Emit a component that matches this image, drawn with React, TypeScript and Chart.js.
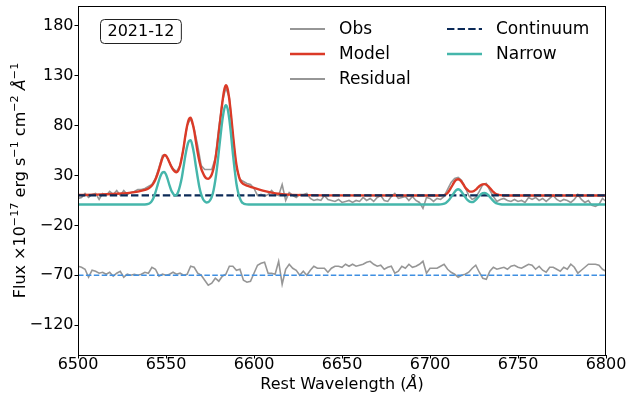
import { useEffect, useRef } from 'react';
import { Chart, registerables } from 'chart.js';
Chart.register(...registerables);

// ---- data ----
const wavelengths = Array.from({ length: 151 }, (_, i) => 6500 + 2 * i);
const obsFlux = [
  7, 8, 12, 8, 11, 12, 6, 12, 10, 14, 11, 15, 10, 15, 11, 13, 14, 16, 16, 17,
  19, 21, 27, 38, 50, 50, 43, 37, 34, 40, 58, 80, 87, 77, 60, 40, 36, 36, 36, 47,
  78, 104, 118, 108, 70, 38, 26, 24, 22, 21, 17, 10, 11, 9, 11, 15, 11, 10, 21, 5,
  13, 10, 8, 11, 11, 12, 7, 5, 6, 5, 10, 6, 5, 4, 6, 3, 4, 5, 3, 5,
  4, 8, 5, 7, 4, 8, 10, 5, 4, 9, 12, 7, 8, 9, 5, 9, 5, 3, -3, 8,
  7, 4, 7, 6, 9, 16, 23, 27, 28, 25, 18, 10, 6, 8, 14, 21, 22, 15, 9, 4,
  6, 7, 5, 4, 6, 4, 5, 3, 8, 6, 8, 5, 7, 4, 7, 10, 6, 4, 6, 5,
  3, 6, 11, 6, 3, 5, 0, -1, 1, 7, 4,
];
const residualFlux = [
  -61, -62, -64, -72, -65, -66, -68, -67, -69, -67, -71, -68, -66, -72, -69, -70, -69, -70, -69, -67,
  -68, -62, -64, -71, -69, -70, -69, -67, -69, -68, -70, -69, -61, -62, -68, -70, -75, -80, -78, -73,
  -76, -71, -69, -61, -61, -65, -64, -75, -77, -76, -68, -60, -58, -57, -68, -68, -69, -56, -79, -64,
  -59, -63, -65, -70, -66, -70, -65, -61, -63, -63, -63, -67, -63, -61, -61, -62, -59, -61, -59, -61,
  -60, -59, -57, -56, -59, -61, -60, -64, -62, -61, -68, -66, -61, -63, -59, -62, -61, -59, -56, -68,
  -63, -63, -63, -61, -59, -64, -67, -69, -72, -70, -69, -67, -63, -60, -67, -73, -74, -66, -62, -64,
  -63, -62, -64, -61, -60, -62, -63, -61, -59, -60, -64, -61, -65, -67, -62, -62, -64, -66, -62, -64,
  -59, -62, -68, -65, -62, -59, -59, -59, -60, -64, -66,
];
const modelWave = [
  6500, 6510, 6520, 6528, 6534, 6538, 6540, 6542, 6543, 6544, 6545, 6546, 6547, 6548, 6549, 6550,
  6551, 6552, 6553, 6554, 6555, 6556, 6557, 6558, 6559, 6560, 6561, 6562, 6563, 6564, 6565, 6566,
  6567, 6568, 6569, 6570, 6571, 6572, 6573, 6574, 6575, 6576, 6577, 6578, 6579, 6580, 6581, 6582,
  6583, 6584, 6585, 6586, 6587, 6588, 6589, 6590, 6591, 6592, 6593, 6594, 6596, 6598, 6600, 6605,
  6610, 6615, 6620, 6630, 6640, 6705, 6708, 6710, 6712, 6713, 6714, 6715, 6716, 6717, 6718, 6719,
  6720, 6721, 6722, 6723, 6724, 6725, 6726, 6727, 6728, 6729, 6730, 6731, 6732, 6733, 6734, 6735,
  6736, 6737, 6738, 6740, 6742, 6800,
];
const modelFlux = [
  10.4, 10.8, 11.5, 12.3, 13.8, 15.5, 17, 20, 22.5, 26, 30.5, 36, 42, 47.5, 50.5, 50,
  47, 43, 39, 36, 34, 33.3, 35, 40, 48, 58, 70, 80, 86.5, 88, 83, 75,
  64, 53, 44, 37, 32.5, 29, 27, 26.7, 28, 31, 37, 46, 58, 73, 88, 103,
  115, 120.5, 117, 106, 90, 72, 55, 41, 32, 26, 23, 21.5, 19.8, 18.7, 17.5, 14.8,
  12.8, 11.5, 10.8, 10.3, 10.1, 10, 10.3, 12.5, 18, 21, 24, 25.8, 26.3, 25.5, 23.5, 21,
  18, 16, 14.5, 13.8, 13.8, 14.5, 15.8, 17.5, 19.2, 20.5, 21.2, 21.4, 20.8, 19.3, 17.5, 15.5,
  13.5, 12, 11, 10.3, 10, 10,
];
const narrowWave = [
  6500, 6538, 6540, 6541, 6542, 6543, 6544, 6545, 6546, 6547, 6548, 6549, 6550, 6551, 6552, 6553,
  6554, 6555, 6556, 6557, 6558, 6559, 6560, 6561, 6562, 6563, 6564, 6565, 6566, 6567, 6568, 6569,
  6570, 6571, 6572, 6573, 6574, 6575, 6576, 6577, 6578, 6579, 6580, 6581, 6582, 6583, 6584, 6585,
  6586, 6587, 6588, 6589, 6590, 6591, 6592, 6593, 6594, 6595, 6597, 6705, 6707, 6709, 6710, 6711,
  6712, 6713, 6714, 6715, 6716, 6717, 6718, 6719, 6720, 6721, 6722, 6723, 6724, 6725, 6726, 6727,
  6728, 6729, 6730, 6731, 6732, 6733, 6734, 6735, 6736, 6737, 6738, 6740, 6742, 6800,
];
const narrowFlux = [
  1, 1, 1.5, 2.5, 4.5, 8, 13, 19, 25, 30, 33, 33.5, 31, 26, 20, 15,
  12, 10, 10.5, 14, 20, 28, 39, 50, 59, 64.5, 65.5, 60, 51, 39, 28, 18,
  11, 6.5, 4, 3, 3.2, 5, 8.5, 15, 25, 38, 54, 70, 85, 96, 100.5, 97,
  86, 70, 52, 36, 22, 13, 7, 3.5, 2, 1.3, 1, 1, 1.3, 2.5, 4, 6,
  8.5, 11, 13.5, 15.5, 16.3, 15.5, 13.5, 11, 8.5, 6, 4.5, 3.5, 3.3, 4, 5.5, 7.5,
  9.5, 11.2, 12.3, 12.6, 12, 10.5, 8.5, 6.5, 4.5, 3, 2, 1.2, 1, 1,
];
const continuumLevel = 10;
const residualZero = -70;
const xRange = [6500, 6800];
const yRange = [-150, 200];
const xTicks = [6500, 6550, 6600, 6650, 6700, 6750, 6800];
const yTicks = [-120, -70, -20, 30, 80, 130, 180];
const epochLabel = '2021-12';

// ---- styles ----
const FONT = '"DejaVu Sans", sans-serif';
const FS = 16;
const FS_LEG = 17;
const C_OBS = '#969696';
const C_MODEL = '#db3a27';
const C_NARROW = '#45b6ab';
const C_CONT = '#0b2a57';
const C_RZERO = '#3f8fe2';

const pts = (xs: number[], ys: number[]) => xs.map((x, i) => ({ x, y: ys[i] }));

type Seg = { t: string; sup?: boolean; it?: boolean };

function drawRich(ctx: CanvasRenderingContext2D, segs: Seg[], cx: number, cy: number, rot: number) {
  ctx.save();
  ctx.translate(cx, cy);
  ctx.rotate(rot);
  ctx.textBaseline = 'middle';
  ctx.textAlign = 'left';
  const fontOf = (s: Seg) => `${s.it ? 'italic ' : ''}${s.sup ? FS * 0.7 : FS}px ${FONT}`;
  let total = 0;
  const widths = segs.map((s) => {
    ctx.font = fontOf(s);
    const w = ctx.measureText(s.t).width;
    total += w;
    return w;
  });
  let x = -total / 2;
  segs.forEach((s, i) => {
    ctx.font = fontOf(s);
    ctx.fillStyle = '#000';
    ctx.fillText(s.t, x, s.sup ? -FS * 0.38 : 0);
    x += widths[i];
  });
  ctx.restore();
}

const decorPlugin = {
  id: 'decor',
  afterDraw(chart: any) {
    const ctx: CanvasRenderingContext2D = chart.ctx;
    const a = chart.chartArea;
    ctx.save();
    // frame
    ctx.strokeStyle = '#000';
    ctx.lineWidth = 1;
    ctx.strokeRect(Math.round(a.left) + 0.5, Math.round(a.top) + 0.5, Math.round(a.right - a.left) - 1, Math.round(a.bottom - a.top));
    // axis titles
    drawRich(ctx, [{ t: 'Rest Wavelength (' }, { t: 'Å', it: true }, { t: ')' }], (a.left + a.right) / 2, 385, 0);
    drawRich(
      ctx,
      [
        { t: 'Flux ×10' }, { t: '−17', sup: true }, { t: ' erg s' }, { t: '−1', sup: true },
        { t: ' cm' }, { t: '−2', sup: true }, { t: ' ' }, { t: 'Å', it: true }, { t: '−1', sup: true },
      ],
      21,
      (a.top + a.bottom) / 2,
      -Math.PI / 2
    );
    // epoch box
    ctx.font = `${FS}px ${FONT}`;
    const tw = ctx.measureText(epochLabel).width;
    const bx = 100.5, by = 19.5, bw = tw + 14, bh = 24;
    ctx.beginPath();
    (ctx as any).roundRect(bx, by, bw, bh, 4);
    ctx.fillStyle = '#fff';
    ctx.fill();
    ctx.strokeStyle = '#222';
    ctx.lineWidth = 1;
    ctx.stroke();
    ctx.fillStyle = '#000';
    ctx.textAlign = 'center';
    ctx.textBaseline = 'middle';
    ctx.fillText(epochLabel, bx + bw / 2, by + bh / 2 + 0.5);
    // legend
    const items = [
      { label: 'Obs', color: C_OBS, w: 1.8, dash: [] as number[], x: 290, y: 29 },
      { label: 'Model', color: C_MODEL, w: 2.4, dash: [], x: 290, y: 54 },
      { label: 'Residual', color: C_OBS, w: 1.8, dash: [], x: 290, y: 79 },
      { label: 'Continuum', color: C_CONT, w: 2.2, dash: [7.4, 3.2], x: 447, y: 29 },
      { label: 'Narrow', color: C_NARROW, w: 2.4, dash: [], x: 447, y: 54 },
    ];
    items.forEach((it) => {
      ctx.beginPath();
      ctx.setLineDash(it.dash);
      ctx.strokeStyle = it.color;
      ctx.lineWidth = it.w;
      ctx.moveTo(it.x, it.y);
      ctx.lineTo(it.x + 35, it.y);
      ctx.stroke();
      ctx.setLineDash([]);
      ctx.fillStyle = '#000';
      ctx.textAlign = 'left';
      ctx.textBaseline = 'middle';
      ctx.font = `${FS_LEG}px ${FONT}`;
      ctx.fillText(it.label, it.x + 49, it.y + 1);
    });
    ctx.restore();
  },
};

export default function App() {
  const ref = useRef<HTMLCanvasElement | null>(null);
  useEffect(() => {
    document.body.style.margin = '0';
    const canvas = ref.current!;
    const fmt = (v: number) => (v < 0 ? '\u2212' + Math.abs(v) : String(v));
    const chart = new Chart(canvas, {
      type: 'line',
      data: {
        datasets: [
          {
            label: 'Narrow', data: pts(narrowWave, narrowFlux), borderColor: C_NARROW, borderWidth: 2.4,
            cubicInterpolationMode: 'monotone', pointRadius: 0, order: 1,
          },
          {
            label: 'Continuum', data: pts(xRange, [continuumLevel, continuumLevel]), borderColor: C_CONT,
            borderWidth: 2.2, borderDash: [7.4, 3.2], pointRadius: 0, order: 2,
          },
          {
            label: 'ResidualZero', data: pts(xRange, [residualZero, residualZero]), borderColor: C_RZERO,
            borderWidth: 1.6, borderDash: [5.5, 2.4], pointRadius: 0, order: 3,
          },
          {
            label: 'Model', data: pts(modelWave, modelFlux), borderColor: C_MODEL, borderWidth: 2.4,
            cubicInterpolationMode: 'monotone', pointRadius: 0, order: 4,
          },
          {
            label: 'Residual', data: pts(wavelengths, residualFlux), borderColor: C_OBS, borderWidth: 1.6,
            pointRadius: 0, tension: 0, order: 5,
          },
          {
            label: 'Obs', data: pts(wavelengths, obsFlux), borderColor: C_OBS, borderWidth: 1.6,
            pointRadius: 0, tension: 0, order: 6,
          },
        ],
      },
      options: {
        responsive: false,
        animation: false,
        layout: { padding: { left: 0, right: 21, top: 6, bottom: 0 } },
        plugins: { legend: { display: false }, tooltip: { enabled: false } },
        scales: {
          x: {
            type: 'linear', min: xRange[0], max: xRange[1],
            afterBuildTicks: (s: any) => { s.ticks = xTicks.map((v) => ({ value: v })); },
            afterFit: (s: any) => { s.height = 41; s.paddingLeft = 0; s.paddingRight = 0; },
            ticks: { font: { family: FONT, size: FS }, color: '#000', padding: -3, maxRotation: 0, callback: (v: any) => fmt(Number(v)) },
            grid: { drawOnChartArea: false, drawTicks: true, tickLength: 3.5, tickColor: '#000', tickWidth: 1 },
            border: { display: false },
          },
          y: {
            type: 'linear', min: yRange[0], max: yRange[1],
            afterBuildTicks: (s: any) => { s.ticks = yTicks.map((v) => ({ value: v })); },
            afterFit: (s: any) => { s.width = 78; s.paddingTop = 0; s.paddingBottom = 0; },
            ticks: { font: { family: FONT, size: FS }, color: '#000', padding: 1, callback: (v: any) => fmt(Number(v)) },
            grid: { drawOnChartArea: false, drawTicks: true, tickLength: 3.5, tickColor: '#000', tickWidth: 1 },
            border: { display: false },
          },
        },
      } as any,
      plugins: [decorPlugin],
    });
    return () => chart.destroy();
  }, []);
  return <canvas ref={ref} width={627} height={396} style={{ display: 'block' }} />;
}
